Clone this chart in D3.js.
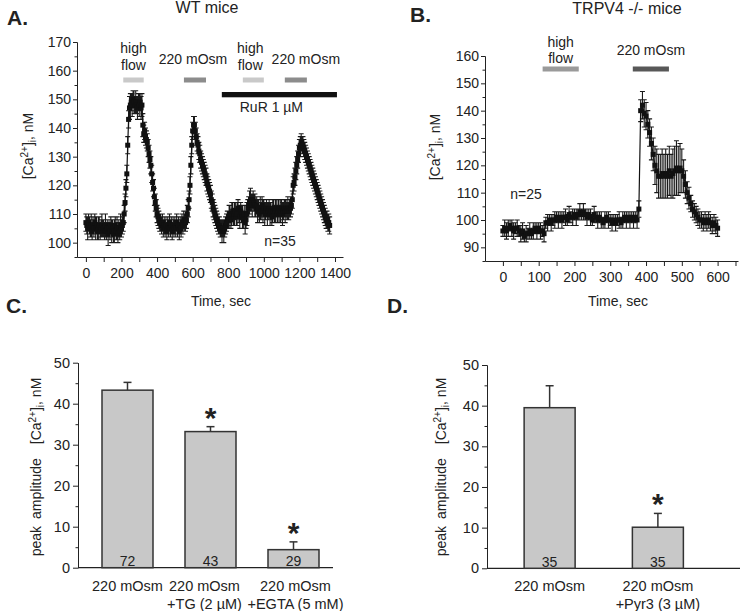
<!DOCTYPE html>
<html><head><meta charset="utf-8">
<script src="https://cdn.jsdelivr.net/npm/d3@7"></script>
<style>
body{margin:0;background:#fff}
svg{display:block}
text{font-family:"Liberation Sans",Arial,Helvetica,sans-serif;fill:#222}
</style>
</head><body>
<svg id="fig" width="740" height="611"></svg>
<script>
// ---------- DATA ----------
// Panel A: WT mice, [Ca2+]i (nM) sampled every 5 s from 0 to 1370 s
const stepA = 5;
const caA = [
 107,106,105,107,106,105,106,104,106,105,107,105,106,104,105,106,104,105,106,105,
 105,104,106,104,105,103,105,104,106,104,105,103,104,106,104,105,103,105,104,106,
 105,106,107,110,114,119,124,134,143,147,148,149,148,150,149,148,149,148,147,149,
 148,149,147,148,141,138,139,137,136,135,133,131,129,127,124,121,119,116,114,112,
 110,109,108,107,107,106,107,105,106,105,106,104,106,105,107,105,106,104,106,105,
 106,105,107,105,106,104,106,105,107,106,108,107,107,108,110,112,115,120,127,134,
 139,141,141,139,137,135,134,132,131,129,128,127,126,125,124,123,121,120,119,118,
 117,115,114,112,111,110,109,108,107,106,106,105,105,104,105,104,105,106,107,108,
 108,109,110,108,110,111,109,110,111,109,110,112,110,109,111,110,109,108,110,107,
 108,110,112,113,114,115,114,113,115,114,113,112,113,111,112,110,112,111,113,111,
 112,110,111,112,110,111,112,110,111,109,111,112,110,111,112,110,111,112,110,111,
 112,110,111,112,111,112,111,112,111,112,112,113,115,120,121,123,125,127,129,131,
 133,134,135,134,134,133,132,131,130,129,128,127,126,125,124,123,122,121,120,119,
 118,117,116,115,114,113,112,111,110,109,108,108,107,107,106
];
const semA = [
 3,3,4,3,3,3,4,3,3,3,3,4,3,3,4,3,3,3,4,3,
 3,3,4,3,3,4,3,3,3,4,3,3,4,3,3,4,3,3,3,4,
 3,3,3,3,3,3,3,3,3,4,4,3,4,3,4,3,4,3,4,3,
 4,3,4,4,4,3,3,3,3,3,3,3,3,3,3,3,3,3,3,3,
 3,3,3,3,3,3,3,3,3,3,3,3,3,3,3,3,3,3,3,3,
 3,3,3,3,3,3,3,3,3,3,3,3,3,3,3,3,3,3,3,3,
 3,3,3,3,3,3,3,3,3,3,3,3,3,3,3,3,3,3,3,3,
 3,3,3,3,3,3,3,3,3,3,3,3,3,4,3,4,3,3,3,3,
 3,4,3,3,4,3,3,4,3,3,4,3,3,4,3,3,4,3,3,4,
 3,4,3,3,4,4,3,4,3,3,4,3,3,4,3,3,4,3,3,4,
 3,4,3,3,4,3,3,4,3,3,4,3,3,4,3,3,4,3,3,4,
 3,4,3,3,4,3,3,4,3,3,3,3,3,3,3,3,3,3,3,3,
 3,3,3,3,3,3,3,3,3,3,3,3,3,3,3,3,3,3,3,3,
 3,3,3,3,3,3,3,3,3,3,3,3,3,3,3
];
// Panel B: TRPV4 -/- mice, sampled every 5 s from 0 to 600 s
const stepB = 5;
const caB = [
 96,97,96,97,98,97,96,97,97,96,95,96,94,95,95,96,95,96,97,96,
 97,96,96,95,99,99,100,99,100,100,101,100,101,100,101,101,100,102,101,101,
 102,101,102,103,102,103,102,101,102,101,100,102,101,100,101,100,99,100,101,100,
 100,99,100,99,100,100,99,100,101,100,101,100,101,100,101,100,104,140,142,139,
 138,135,132,128,124,120,118,116,116,117,116,117,116,118,116,117,118,119,118,119,
 118,116,113,110,108,106,104,103,102,101,100,100,99,100,99,100,99,98,99,98,
 97
];
const semB = [
 2,3,3,3,2,3,3,2,3,2,3,3,2,3,2,3,2,3,2,3,
 2,3,2,3,2,3,2,3,2,3,2,3,2,3,2,3,2,3,2,3,
 2,3,2,3,2,3,2,3,2,3,2,3,2,3,2,3,2,3,2,3,
 2,3,2,3,2,3,2,3,2,3,2,3,2,3,2,3,3,4,5,5,
 5,5,5,6,6,7,8,8,8,9,8,9,8,9,8,9,9,10,9,9,
 8,6,5,4,4,3,3,3,3,3,3,3,3,3,3,3,3,3,3,3,
 3
];
// Stimulus periods (s)
const eventLabelsA = [["high","flow"],["220 mOsm"],["high","flow"],["220 mOsm"]];
const eventStartA = [210, 551, 882, 1118];
const eventEndA   = [325, 675, 1000, 1242];
const rurLabel = "RuR 1 µM";
const rurStart = 764, rurEnd = 1411;
const eventLabelsB = [["high","flow"],["220 mOsm"]];
const eventStartB = [111, 363];
const eventEndB   = [212, 464];
const nA = "n=35", nB = "n=25";
// Axis ticks
const yTicksA = [100,110,120,130,140,150,160,170];
const xTicksA = [0,200,400,600,800,1000,1200,1400];
const yTicksB = [90,100,110,120,130,140,150,160];
const xTicksB = [0,100,200,300,400,500,600];
const yTicksBar = [0,10,20,30,40,50];
// Panel C
const catC = [["220 mOsm"],["220 mOsm","+TG (2 µM)"],["220 mOsm","+EGTA (5 mM)"]];
const meanC = [43.3, 33.2, 4.4];
const errC  = [1.9, 1.2, 1.9];
const nC    = [72, 43, 29];
const sigC  = [false, true, true];
// Panel D
const catD = [["220 mOsm"],["220 mOsm","+Pyr3 (3 µM)"]];
const meanD = [39.5, 10.1];
const errD  = [5.4, 3.4];
const nD    = [35, 35];
const sigD  = [false, true];

// ---------- DRAWING ----------
const svg = d3.select("#fig");
const INK = "#222";

function styleAxis(g, fs) {
  g.attr("font-family", null).attr("font-size", null);
  g.selectAll("path.domain").attr("stroke", INK).attr("stroke-width", 1);
  g.selectAll(".tick line").attr("stroke", INK).attr("stroke-width", 1);
  g.selectAll(".tick text").attr("fill", INK).style("font-size", fs + "px");
}
function caTspans(t) {
  t.append("tspan").text("[Ca");
  t.append("tspan").attr("dy", -5).style("font-size", "10px").text("2+");
  t.append("tspan").attr("dy", 5).text("]");
  t.append("tspan").attr("dy", 3).style("font-size", "10px").text("i");
  t.append("tspan").attr("dy", -3).text(", nM");
}
function yLabelCa(x, y) {
  const t = svg.append("text").attr("transform", `translate(${x},${y}) rotate(-90)`)
    .attr("text-anchor", "middle").style("font-size", "14px");
  caTspans(t);
}
function panelLetter(s, x, y) {
  svg.append("text").attr("x", x).attr("y", y).text(s)
    .style("font-size", "21px").style("font-weight", "bold").attr("fill", "#111");
}
function drawTrace(x, y, t, v, e) {
  const g = svg.append("g");
  let p = "";
  t.forEach((ti, i) => {
    const xx = x(ti), y0 = y(v[i] - e[i]), y1 = y(v[i] + e[i]);
    p += `M${xx},${y0}V${y1}M${xx-2.5},${y0}H${xx+2.5}M${xx-2.5},${y1}H${xx+2.5}`;
  });
  g.append("path").attr("d", p).attr("stroke", "#1a1a1a").attr("stroke-width", 1.1).attr("fill", "none");
  const pts = t.map((ti, i) => [ti, v[i]]);
  g.append("path").datum(pts).attr("d", d3.line().x(d => x(d[0])).y(d => y(d[1])))
    .attr("fill", "none").attr("stroke", "#111").attr("stroke-width", 1.2);
  g.selectAll("rect").data(pts).join("rect")
    .attr("x", d => x(d[0]) - 2.5).attr("y", d => y(d[1]) - 2.5)
    .attr("width", 5).attr("height", 5).attr("fill", "#111");
}

// ===== Panel A =====
{
  const x = d3.scaleLinear().domain([-50, 1445]).range([77, 343]);
  const y = d3.scaleLinear().domain([95, 170]).range([257, 42]);
  const tA = caA.map((_, i) => i * stepA);

  panelLetter("A.", 7, 25);
  svg.append("text").attr("x", 207).attr("y", 13).attr("text-anchor", "middle")
    .style("font-size", "16px").text("WT mice");

  svg.append("g").attr("transform", "translate(77,0)")
    .call(d3.axisLeft(y).tickValues(d3.range(95, 170, 10)).tickSize(2.5).tickFormat("").tickSizeOuter(0))
    .call(g => styleAxis(g, 14));
  svg.append("g").attr("transform", "translate(77,0)")
    .call(d3.axisLeft(y).tickValues(yTicksA).tickSize(4).tickPadding(2).tickSizeOuter(0))
    .call(g => styleAxis(g, 14));
  svg.append("g").attr("transform", "translate(0,257)")
    .call(d3.axisBottom(x).tickValues(d3.range(0, 1401, 100)).tickSize(5).tickPadding(6).tickSizeOuter(0)
      .tickFormat(d => xTicksA.includes(d) ? d : ""))
    .call(g => styleAxis(g, 14));

  yLabelCa(33, 146);
  svg.append("text").attr("x", 221).attr("y", 306).attr("text-anchor", "middle")
    .style("font-size", "14px").text("Time, sec");

  const toneA = ["#c9c9c9", "#8c8c8c", "#c9c9c9", "#8c8c8c"];
  const dxA = [0, -2, -3, 10];
  eventStartA.forEach((s, i) => {
    svg.append("rect").attr("x", x(s)).attr("y", 77.5).attr("width", x(eventEndA[i]) - x(s))
      .attr("height", 5).attr("fill", toneA[i]);
    const cx = (x(s) + x(eventEndA[i])) / 2 + dxA[i];
    const lines = eventLabelsA[i];
    const base = lines.length === 2 ? [52.5, 70] : [64];
    lines.forEach((l, j) => svg.append("text").attr("x", cx).attr("y", base[j])
      .attr("text-anchor", "middle").style("font-size", "14px").text(l));
  });
  svg.append("rect").attr("x", x(rurStart)).attr("y", 92).attr("width", x(rurEnd) - x(rurStart))
    .attr("height", 5.3).attr("fill", "#111");
  svg.append("text").attr("x", (x(rurStart) + x(rurEnd)) / 2 - 8).attr("y", 112)
    .attr("text-anchor", "middle").style("font-size", "14px").text(rurLabel);
  svg.append("text").attr("x", 280).attr("y", 246).attr("text-anchor", "middle")
    .style("font-size", "14px").text(nA);

  drawTrace(x, y, tA, caA, semA);
}

// ===== Panel B =====
{
  const x = d3.scaleLinear().domain([-50, 657]).range([485, 738]);
  const y = d3.scaleLinear().domain([85, 160]).range([261, 56]);
  const tB = caB.map((_, i) => i * stepB);

  panelLetter("B.", 410, 22);
  svg.append("text").attr("x", 627).attr("y", 13.5).attr("text-anchor", "middle")
    .style("font-size", "16px").text("TRPV4 -/- mice");

  svg.append("g").attr("transform", "translate(485,0)")
    .call(d3.axisLeft(y).tickValues(d3.range(85, 160, 10)).tickSize(2.5).tickFormat("").tickSizeOuter(0))
    .call(g => styleAxis(g, 14));
  svg.append("g").attr("transform", "translate(485,0)")
    .call(d3.axisLeft(y).tickValues(yTicksB).tickSize(4).tickPadding(2).tickSizeOuter(0))
    .call(g => styleAxis(g, 14));
  svg.append("g").attr("transform", "translate(0,261)")
    .call(d3.axisBottom(x).tickValues(d3.range(0, 651, 50)).tickSize(5).tickPadding(6).tickSizeOuter(0)
      .tickFormat(d => xTicksB.includes(d) ? d : ""))
    .call(g => styleAxis(g, 14));

  yLabelCa(440, 147);
  svg.append("text").attr("x", 618).attr("y", 306).attr("text-anchor", "middle")
    .style("font-size", "14px").text("Time, sec");

  const toneB = ["#9a9a9a", "#585858"];
  eventStartB.forEach((s, i) => {
    svg.append("rect").attr("x", x(s)).attr("y", 66.5).attr("width", x(eventEndB[i]) - x(s))
      .attr("height", 5).attr("fill", toneB[i]);
    const cx = (x(s) + x(eventEndB[i])) / 2;
    const lines = eventLabelsB[i];
    const base = lines.length === 2 ? [46.5, 62.5] : [55];
    lines.forEach((l, j) => svg.append("text").attr("x", cx).attr("y", base[j])
      .attr("text-anchor", "middle").style("font-size", "14px").text(l));
  });
  svg.append("text").attr("x", 526).attr("y", 199).attr("text-anchor", "middle")
    .style("font-size", "14px").text(nB);

  drawTrace(x, y, tB, caB, semB);
}

// ===== Bar panels =====
function barPanel(opt) {
  const { cats, mean, err, n, sig, axisX, axisRight, y0px, y50px, xRange } = opt;
  const y = d3.scaleLinear().domain([0, 50]).range([y0px, y50px]);
  const x = d3.scalePoint().domain(cats.map((_, i) => i)).range(xRange).padding(0.5);
  const bw = 51;

  svg.append("g").attr("transform", `translate(${axisX},0)`)
    .call(d3.axisLeft(y).tickValues(d3.range(5, 50, 10)).tickSize(2.5).tickFormat("").tickSizeOuter(0))
    .call(g => styleAxis(g, 14.5));
  svg.append("g").attr("transform", `translate(${axisX},0)`)
    .call(d3.axisLeft(y).tickValues(yTicksBar).tickSize(5).tickPadding(3).tickSizeOuter(0))
    .call(g => styleAxis(g, 14.5));
  svg.append("line").attr("x1", axisX).attr("x2", axisRight).attr("y1", y0px).attr("y2", y0px)
    .attr("stroke", INK).attr("stroke-width", 1.2);

  cats.forEach((c, i) => {
    const cx = x(i);
    svg.append("line").attr("x1", cx).attr("x2", cx).attr("y1", y(mean[i])).attr("y2", y(mean[i] + err[i]))
      .attr("stroke", "#333").attr("stroke-width", 1.5);
    svg.append("line").attr("x1", cx - 4).attr("x2", cx + 4).attr("y1", y(mean[i] + err[i])).attr("y2", y(mean[i] + err[i]))
      .attr("stroke", "#333").attr("stroke-width", 1.5);
    svg.append("rect").attr("x", cx - bw / 2).attr("y", y(mean[i])).attr("width", bw)
      .attr("height", y(0) - y(mean[i])).attr("fill", "#c8c8c8").attr("stroke", "#333").attr("stroke-width", 1.5);
    svg.append("text").attr("x", cx).attr("y", y(0) - 1.5).attr("text-anchor", "middle")
      .style("font-size", "14px").text(n[i]);
    if (sig[i]) {
      svg.append("text").attr("x", cx).attr("y", y(mean[i] + err[i]) + 1).attr("text-anchor", "middle")
        .style("font-size", "30px").style("font-weight", "bold").attr("fill", "#111").text("*");
    }
    c.forEach((l, j) => svg.append("text").attr("x", cx + (opt.labelDx ? opt.labelDx[i] : 0))
      .attr("y", j === 0 ? 590.5 : 609).attr("text-anchor", "middle").style("font-size", "14.5px").text(l));
  });

  const t = svg.append("text").attr("transform", `translate(${opt.labelX},467) rotate(-90)`)
    .attr("text-anchor", "middle").style("font-size", "14px");
  t.append("tspan").text("peak");
  t.append("tspan").attr("dx", 7).text("amplitude");
  t.append("tspan").attr("dx", 14).text("[Ca");
  t.append("tspan").attr("dy", -5).style("font-size", "10px").text("2+");
  t.append("tspan").attr("dy", 5).text("]");
  t.append("tspan").attr("dy", 3).style("font-size", "10px").text("i");
  t.append("tspan").attr("dy", -3).text(", nM");
}

panelLetter("C.", 6, 313);
barPanel({ cats: catC, mean: meanC, err: errC, n: nC, sig: sigC, axisX: 78, axisRight: 333,
  y0px: 567.7, y50px: 362.7, xRange: [86, 335], labelX: 41, labelDx: [0, -6, 2] });

panelLetter("D.", 387, 313);
barPanel({ cats: catD, mean: meanD, err: errD, n: nD, sig: sigD, axisX: 487, axisRight: 740,
  y0px: 568.3, y50px: 365, xRange: [495.5, 712], labelX: 446 });
</script>
</body></html>
